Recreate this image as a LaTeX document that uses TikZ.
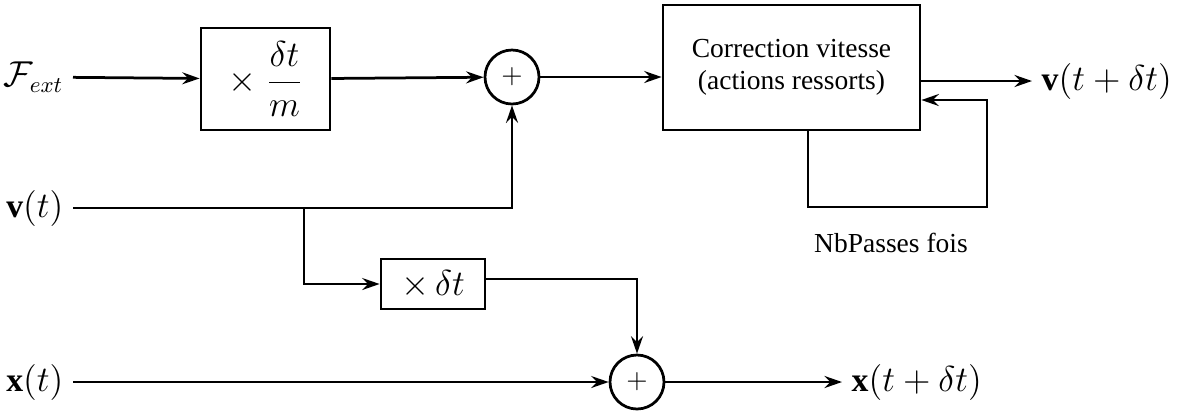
\documentclass[tikz,border=0pt]{standalone}
\usepackage{fontspec}
\setmainfont{Liberation Serif}
\usetikzlibrary{arrows.meta,positioning}

\begin{document}
\begin{tikzpicture}[x=0.4pt,y=-0.4pt,font=\fontsize{11}{13}\selectfont,line width=1.1pt,mth/.style={font=\fontsize{13.5}{16}\selectfont},box/.style={draw,align=center,minimum width=51.6pt,minimum height=40.8pt,inner sep=2pt},bigbox/.style={box,minimum width=102.8pt,minimum height=50pt},smallbox/.style={box,mth,minimum width=41.6pt,minimum height=20pt},sum/.style={draw,circle,minimum size=21.6pt,inner sep=0pt},arr/.style={-{Stealth[length=7pt,width=4.8pt,inset=2.4pt]}}]
\useasboundingbox (0,0) rectangle (1185,416);
\node[mth,anchor=east](fext) at (73,77){$\mathcal{F}_{ext}$};
\node[box,mth](mul1) at (265.5,79){$\times\;\displaystyle\frac{\delta t}{m}$};
\node[sum](sum1) at (512,77){$+$};
\node[bigbox](corr) at (791.5,67.5){Correction vitesse\\(actions ressorts)};
\node[mth,anchor=west](vout) at (1032,81){$\mathbf{v}(t+\delta t)$};
\node[mth,anchor=east](vt) at (73,208){$\mathbf{v}(t)$};
\node[smallbox](mul2) at (433,284){$\times\,\delta t$};
\node[sum](sum2) at (637,382){$+$};
\node[mth,anchor=east](xt) at (73,382){$\mathbf{x}(t)$};
\node[mth,anchor=west](xout) at (842,382){$\mathbf{x}(t+\delta t)$};
\node(nbp) at (891,243){NbPasses fois};
\coordinate(br) at (304,208);\coordinate(fb1) at (808,207);\coordinate(fb2) at (987,100);
\draw[arr](fext)--(mul1);\draw[arr](mul1)--(sum1);\draw[arr](sum1.east)--(sum1.east -| corr.west);
\draw[arr](vout.west -| corr.east)--(vout.west);
\draw[arr](fb1 |- corr.south)--(fb1)-|(fb2)--(fb2 -| corr.east);
\draw[arr](vt.east)-|(sum1.south);\draw[arr](br)|-(mul2.west);
\draw[arr]([yshift=2pt]mul2.east)-|(sum2.north);
\draw[arr](xt.east)--(sum2.west);\draw[arr](sum2.east)--(xout.west);
\end{tikzpicture}
\end{document}
